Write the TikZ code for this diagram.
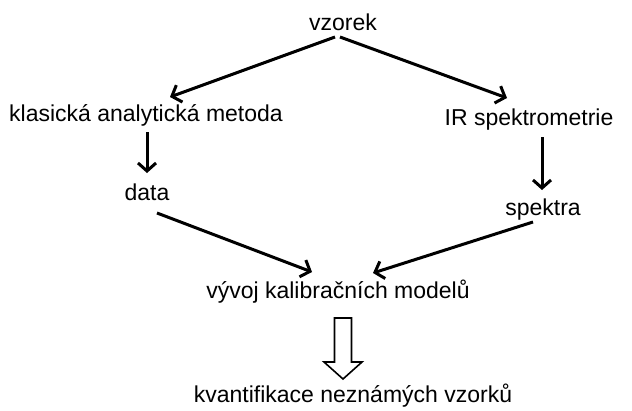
\documentclass[tikz,border=0pt]{standalone}
\usepackage{fontspec}
\setmainfont{Liberation Sans}
\usetikzlibrary{arrows.meta,calc}

\tikzset{
  label/.style={font=\fontsize{23}{27}\selectfont, inner sep=0pt},
  flow/.style={line width=3pt, -{Straight Barb[length=8pt,width=18pt]}},
  hollow/.style={line width=1.6pt, line join=miter},
}

\begin{document}
\begin{tikzpicture}[x=1pt,y=-1pt]
\useasboundingbox (0,0) rectangle (632,410);

\node[label] (vzorek) at (343,22) {vzorek};
\node[label] (klasicka) at (146,115) {klasická analytická metoda};
\node[label] (ir) at (529,120) {IR spektrometrie};
\node[label] (data) at (147,192) {data};
\node[label] (spektra) at (543,210) {spektra};
\node[label] (vyvoj) at (338,292) {vývoj kalibračních modelů};
\node[label] (kvant) at (353,396) {kvantifikace neznámých vzorků};
\coordinate (hollowtop) at (343,318);

% sample splits into the two branches
\draw[flow] ($(vzorek)+(-8,15)$) -- ($(klasicka)+(24,-18)$);
\draw[flow] ($(vzorek)+(-3,15)$) -- ($(ir)+(-22,-22)$);
\draw[flow] ($(klasicka)+(1,17)$) -- ($(data)+(0,-19)$);
\draw[flow] ($(ir)+(13,17)$) -- ($(spektra)+(-1,-20)$);
\draw[flow] ($(data)+(10,21)$) -- ($(vyvoj)+(-26,-20)$);
\draw[flow] ($(spektra)+(-10,12)$) -- ($(vyvoj)+(35,-19)$);

% big hollow arrow
\draw[hollow] (hollowtop) ++(-8.5,0) -- ++(17,0) -- ++(0,44) -- ++(10.5,0)
  -- ++(-19,17) -- ++(-19,-17) -- ++(10.5,0) -- cycle;
\end{tikzpicture}
\end{document}
